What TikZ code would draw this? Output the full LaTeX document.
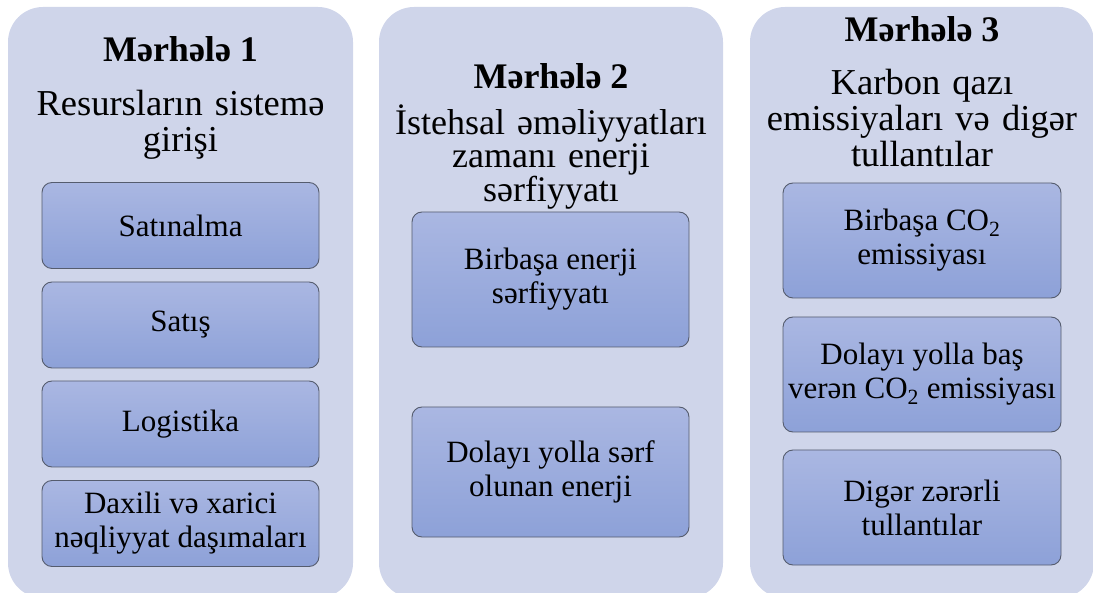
\documentclass[tikz,border=0pt]{standalone}
\usepackage{fontspec}
\setmainfont{Liberation Serif}
\definecolor{panel}{RGB}{207,213,234}
\definecolor{boxtop}{RGB}{170,183,226}
\definecolor{boxbot}{RGB}{141,161,216}
\definecolor{boxline}{RGB}{85,92,110}
\tikzset{
  panelbox/.style={fill=panel, rounded corners=35pt, draw=none, inner sep=0pt},
  stagebox/.style={draw=boxline, line width=0.9pt, rounded corners=10pt,
    top color=boxtop, bottom color=boxbot, align=center, inner sep=0pt,
    font=\fontsize{31}{34}\selectfont},
  ttl/.style={font=\bfseries\fontsize{36}{40}\selectfont, anchor=base, inner sep=0pt},
  sub/.style={font=\fontsize{36.5}{36}\selectfont, align=center, text width=345pt,
    anchor=base, inner sep=0pt}
}
\begin{document}
\begin{tikzpicture}[x=1pt,y=-1pt]
\useasboundingbox (0,0) rectangle (1093,593);
\clip (0,0) rectangle (1093,593);
% panels
\node[panelbox, minimum width=345pt, minimum height=591pt] (p1) at (180.5,302.5) {};
\node[panelbox, minimum width=344pt, minimum height=591pt] (p2) at (551,302.5) {};
\node[panelbox, minimum width=344pt, minimum height=591pt] (p3) at (922,302.5) {};
% panel 1
\node[ttl] (t1) at (180.5,62) {Mərhələ 1};
\node[sub] (s1) at (180.5,116) {Resursların sistemə\\girişi};
\node[stagebox, minimum width=277pt, minimum height=86pt] (a1) at (180.5,225.5) {Satınalma};
\node[stagebox, minimum width=277pt, minimum height=86pt] (a2) at (180.5,325) {Satış};
\node[stagebox, minimum width=277pt, minimum height=86pt] (a3) at (180.5,424) {Logistika};
\node[stagebox, minimum width=277pt, minimum height=86pt] (a4) at (180.5,523.5) {Daxili və xarici\\nəqliyyat daşımaları};
% panel 2
\node[ttl] (t2) at (551,89) {Mərhələ 2};
\node[sub, font=\fontsize{36}{32.5}\selectfont] (s2) at (551,135) {İstehsal əməliyyatları\\zamanı enerji\\sərfiyyatı};
\node[stagebox, minimum width=277pt, minimum height=135pt] (b1) at (550.5,279.5) {Birbaşa enerji\\sərfiyyatı};
\node[stagebox, minimum width=277pt, minimum height=130pt] (b2) at (550.5,472) {Dolayı yolla sərf\\olunan enerji};
% panel 3
\node[ttl] (t3) at (922,42) {Mərhələ 3};
\node[sub] (s3) at (922,95) {Karbon qazı\\emissiyaları və digər\\tullantılar};
\node[stagebox, minimum width=278pt, minimum height=115pt] (c1) at (922,240.5) {Birbaşa CO\textsubscript{2}\\emissiyası};
\node[stagebox, minimum width=278pt, minimum height=115pt] (c2) at (922,374.5) {Dolayı yolla baş\\verən CO\textsubscript{2} emissiyası};
\node[stagebox, minimum width=278pt, minimum height=115pt] (c3) at (922,507.5) {Digər zərərli\\tullantılar};
\end{tikzpicture}
\end{document}
